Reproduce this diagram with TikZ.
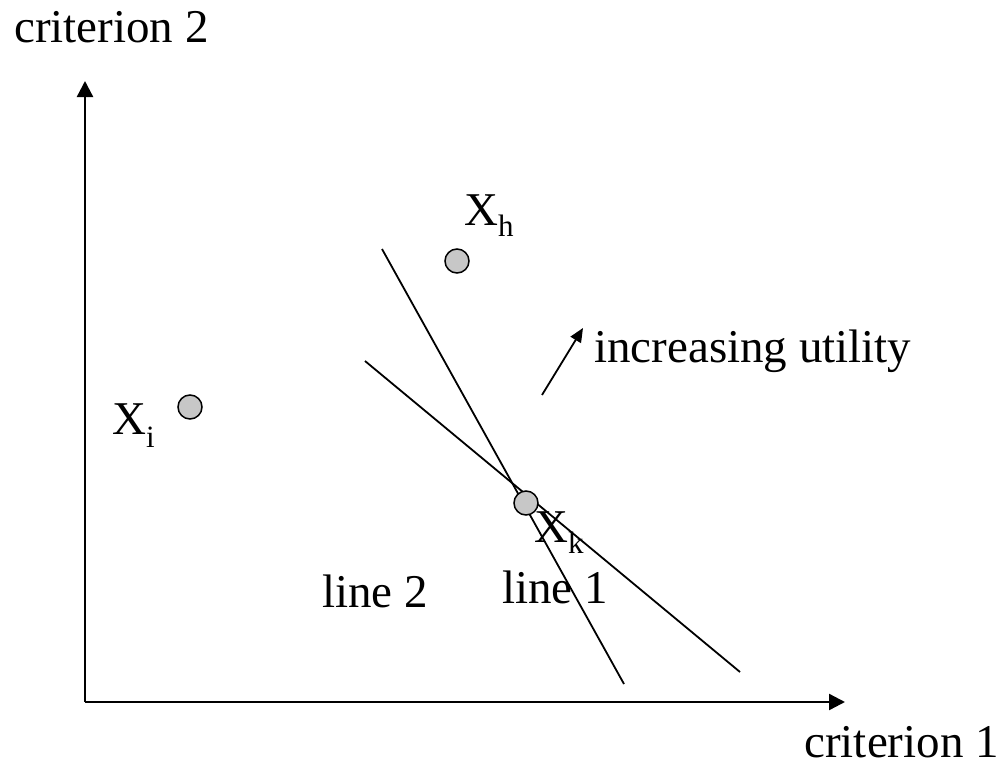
\documentclass[tikz,border=0pt]{standalone}
\usepackage{fontspec}
\setmainfont{Liberation Serif}
\usetikzlibrary{arrows.meta}
\begin{document}
\begin{tikzpicture}[x=1pt,y=-1pt,
  lbl/.style={inner sep=0pt,anchor=base west,font=\fontsize{47}{52}\selectfont},
  pt/.style={circle,draw=black,fill=black!22,line width=1.5pt,minimum size=24pt,inner sep=0pt},
  axis/.style={line width=2.4pt,-{Triangle[width=16pt,length=16pt]}},
  ln/.style={line width=1.8pt}]
\useasboundingbox (0,0) rectangle (1007,768);
% axes
\coordinate (O) at (85,702);
\coordinate (ytip) at (85,81);
\coordinate (xtip) at (845,702);
\draw[axis] (O) -- (ytip);
\draw[axis] (O) -- (xtip);
% lines
\coordinate (l1a) at (382,249);
\coordinate (l1b) at (624,684);
\coordinate (l2a) at (365,361);
\coordinate (l2b) at (740,672);
\draw[ln] (l1a) -- (l1b);
\draw[ln] (l2a) -- (l2b);
% points
\node[pt] (Xh) at (457,261) {};
\node[pt] (Xi) at (190,407) {};
\node[pt] (Xk) at (526,503) {};
% labels
\node[lbl] (c2) at (14,43) {criterion 2};
\node[lbl,anchor=base east] (c1) at (999,757) {criterion 1};
\node[lbl] (iu) at (594,362) {increasing utility};
\node[lbl] (L2) at (322,607) {line 2};
\node[lbl] (L1) at (502,603) {line 1};
\node[lbl] (Xhl) at (464,225) {X\raisebox{-11pt}{\fontsize{31}{32}\selectfont h}};
\node[lbl] (Xil) at (112,434) {X\raisebox{-13pt}{\fontsize{31}{32}\selectfont i}};
\node[lbl] (Xkl) at (534,542) {X\raisebox{-11pt}{\fontsize{31}{32}\selectfont k}};
% utility arrow
\coordinate (ua) at (542,395);
\coordinate (ub) at (583,328);
\draw[line width=1.8pt,-{Triangle[width=12pt,length=14pt]}] (ua) -- (ub);
\end{tikzpicture}
\end{document}
